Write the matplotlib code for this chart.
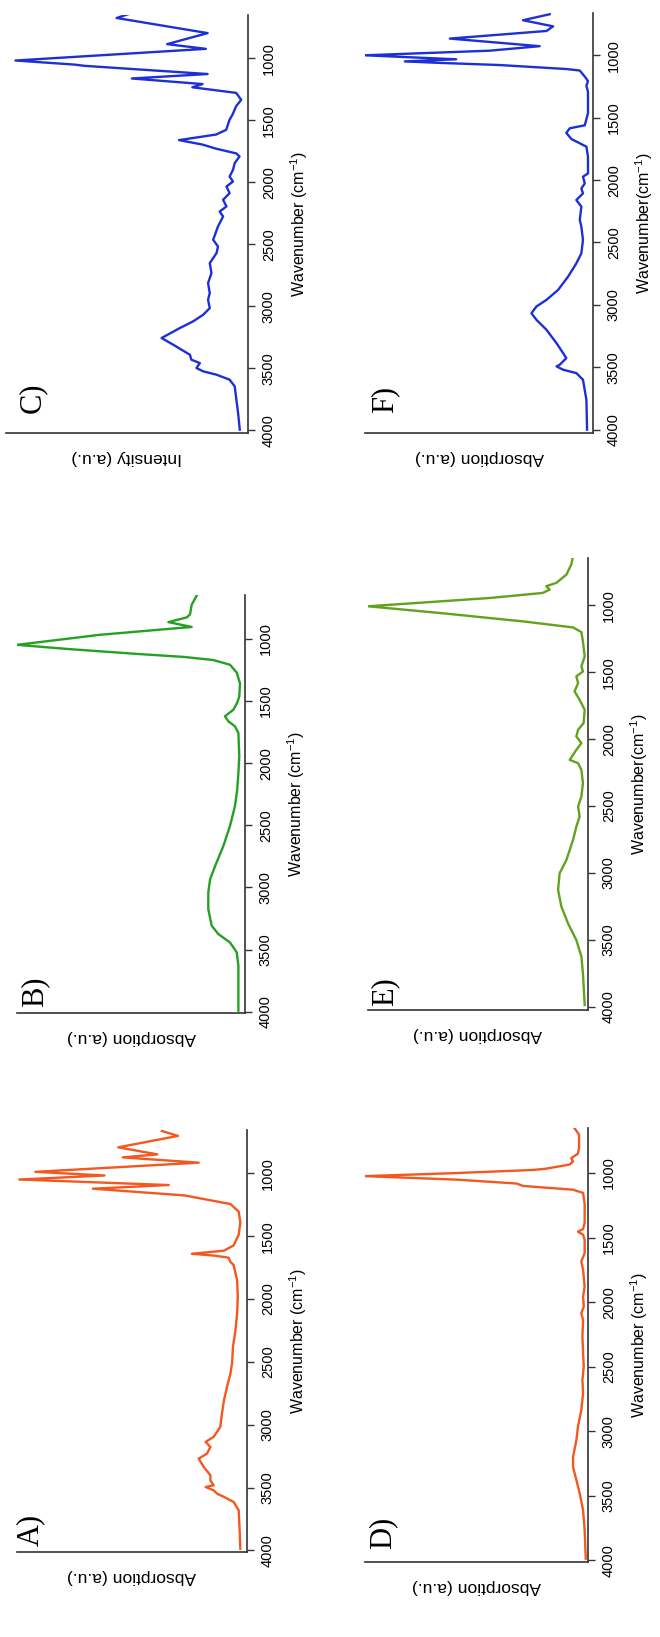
import matplotlib
matplotlib.use("Agg")
import matplotlib.pyplot as plt

plt.rcParams['font.family'] = ['Liberation Sans', 'DejaVu Sans']
plt.rcParams['mathtext.fontset'] = 'custom'
plt.rcParams['mathtext.rm'] = 'Liberation Sans'
plt.rcParams['mathtext.it'] = 'Liberation Sans'

# spectra: wavenumber (cm-1) and relative absorption (0..1)
wn_a = [663, 702, 793, 849, 873, 915, 988, 1017, 1049, 1093, 1122, 1176, 1190, 1244, 1305, 1390,
        1488, 1573, 1615, 1640, 1654, 1671, 1704, 1730, 1850, 1982, 2115, 2248, 2381, 2513, 2593,
        2699, 2805, 2912, 3018, 3097, 3137, 3177, 3230, 3270, 3336, 3403, 3443, 3482, 3496, 3522,
        3549, 3575, 3615, 3682, 3841, 3987]
ab_a = [.37, .30, .56, .39, .54, .21, .92, .62, .99, .34, .67, .27, .23, .072, .036, .029,
        .036, .058, .10, .24, .145, .08, .072, .058, .043, .04, .043, .05, .061, .065, .072,
        .087, .10, .109, .116, .145, .18, .159, .174, .21, .188, .159, .159, .145, .18, .145,
        .13, .10, .058, .036, .032, .029]

wn_b = [645, 726, 802, 827, 865, 904, 967, 1048, 1081, 1119, 1145, 1170, 1208, 1272, 1360, 1462,
        1513, 1570, 1623, 1663, 1704, 1757, 1944, 2078, 2212, 2345, 2506, 2667, 2827, 2934, 3041,
        3175, 3308, 3375, 3442, 3523, 3630, 3991]
ab_b = [.21, .234, .241, .255, .336, .234, .635, 1.0, .78, .49, .27, .14, .066, .036, .022, .025,
        .034, .051, .088, .073, .044, .029, .025, .029, .034, .044, .066, .095, .131, .153, .161,
        .161, .146, .117, .066, .036, .029, .029]

wn_c = [644, 675, 797, 886, 924, 1018, 1051, 1061, 1127, 1163, 1208, 1234, 1279, 1335, 1386, 1450,
        1500, 1577, 1615, 1660, 1696, 1729, 1767, 1792, 1846, 1900, 1954, 1994, 2034, 2088, 2141,
        2195, 2236, 2276, 2356, 2464, 2518, 2571, 2652, 2732, 2813, 2894, 2947, 3015, 3068, 3122,
        3176, 3256, 3310, 3350, 3391, 3431, 3458, 3498, 3525, 3552, 3592, 3646, 3753, 3860, 3995]
ab_c = [.494, .543, .167, .334, .174, .961, .717, .675, .167, .48, .188, .23, .049, .028, .049, .063,
        .077, .09, .132, .285, .188, .132, .049, .035, .055, .062, .076, .062, .089, .076, .103,
        .089, .117, .103, .124, .144, .124, .13, .158, .151, .165, .158, .165, .158, .185, .227,
        .282, .357, .309, .275, .24, .234, .199, .213, .185, .13, .076, .055, .048, .041, .034]

wn_d = [654, 702, 800, 849, 885, 910, 934, 966, 976, 1000, 1024, 1051, 1081, 1100, 1129, 1154,
        1239, 1386, 1434, 1454, 1478, 1517, 1621, 1685, 1750, 1879, 1957, 2034, 2086, 2138, 2267,
        2396, 2500, 2603, 2707, 2836, 2965, 3069, 3198, 3276, 3379, 3483, 3612, 3767, 3987]
ab_d = [.06, .04, .04, .045, .075, .067, .082, .187, .246, .59, 1.0, .59, .321, .291, .067, .022,
        .015, .015, .022, .045, .022, .015, .015, .03, .022, .015, .022, .019, .03, .022, .025,
        .022, .019, .025, .022, .03, .045, .052, .067, .067, .052, .037, .022, .015, .01]

wn_e = [632, 695, 770, 832, 857, 882, 907, 945, 1007, 1057, 1120, 1165, 1200, 1270, 1382, 1456,
        1494, 1531, 1581, 1643, 1706, 1781, 1880, 1930, 1980, 2030, 2080, 2155, 2180, 2230, 2329,
        2429, 2504, 2579, 2654, 2753, 2903, 3003, 3127, 3252, 3377, 3502, 3626, 3751, 3988]
ab_e = [.068, .076, .098, .144, .19, .174, .205, .447, 1.0, .674, .295, .068, .03, .023, .015, .03,
        .023, .053, .045, .061, .038, .015, .02, .045, .053, .03, .053, .083, .045, .03, .023,
        .03, .045, .038, .053, .068, .098, .129, .136, .121, .091, .053, .03, .023, .015]

wn_f = [671, 719, 768, 805, 866, 927, 963, 1000, 1032, 1049, 1061, 1078, 1110, 1122, 1171, 1207,
        1244, 1293, 1464, 1561, 1585, 1622, 1671, 1732, 1813, 1947, 1973, 2027, 2067, 2107, 2160,
        2213, 2320, 2373, 2480, 2587, 2667, 2773, 2880, 2960, 3013, 3067, 3120, 3200, 3307, 3387,
        3427, 3480, 3493, 3520, 3547, 3600, 3760, 4000]
ab_f = [.19, .307, .175, .204, .628, .234, .453, 1.0, .6, .825, .67, .41, .117, .058, .036, .022,
        .029, .022, .022, .036, .102, .117, .095, .029, .022, .022, .044, .036, .051, .044, .073,
        .051, .058, .051, .044, .051, .073, .109, .153, .204, .248, .27, .248, .204, .16, .131,
        .117, .146, .16, .131, .073, .044, .029, .026]

orange = '#F2581F'
green_b = '#24A024'
green_e = '#62A21C'
blue = '#1C30D6'

W, H = 660, 1637
fig = plt.figure(figsize=(W / 100, H / 100), dpi=100)

# panel: (wn, ab, colour, letter, ylabel, xlabel, box px (x0, x1, y0, y1), ylim, letter pos)
panels = [
    (wn_c, ab_c, blue, 'C)', 'Intensity (a.u.)', 'Wavenumber (cm$^{-1}$)', (6, 248, 15, 433), (4022, 651), (0.11, 0.085)),
    (wn_f, ab_f, blue, 'F)', 'Absorption (a.u.)', 'Wavenumber(cm$^{-1}$)', (365, 593, 13, 433), (4027, 661), (0.088, 0.08)),
    (wn_b, ab_b, green_b, 'B)', 'Absorption (a.u.)', 'Wavenumber (cm$^{-1}$)', (17, 245, 595, 1013), (4010, 647), (0.08, 0.05)),
    (wn_e, ab_e, green_e, 'E)', 'Absorption (a.u.)', 'Wavenumber(cm$^{-1}$)', (368, 588, 558, 1010), (4025, 646), (0.078, 0.04)),
    (wn_a, ab_a, orange, 'A)', 'Absorption (a.u.)', 'Wavenumber (cm$^{-1}$)', (17, 247, 1130, 1552), (4013, 655), (0.06, 0.052)),
    (wn_d, ab_d, orange, 'D)', 'Absorption (a.u.)', 'Wavenumber (cm$^{-1}$)', (365, 588, 1128, 1562), (4013, 651), (0.08, 0.067)),
]

for wn, ab, col, letter, ylab, xlab, box, ylim, lpos in panels:
    x0, x1, y0, y1 = box
    ax = fig.add_axes([x0 / W, 1 - y1 / H, (x1 - x0) / W, (y1 - y0) / H])
    ax.plot(ab, wn, color=col, lw=1.7)
    ax.set_xlim(1.0, 0.0)
    ax.set_ylim(*ylim)
    for s in ['top', 'left']:
        ax.spines[s].set_visible(False)
    for s in ['right', 'bottom']:
        ax.spines[s].set_color('#333333')
        ax.spines[s].set_linewidth(1.2)
    ax.set_xticks([])
    ax.set_yticks([1000, 1500, 2000, 2500, 3000, 3500, 4000])
    ax.yaxis.tick_right()
    ax.tick_params(axis='y', direction='out', length=5, width=1.0, color='#333333', pad=5, labelsize=10.5)
    for t in ax.get_yticklabels():
        t.set_rotation(90)
        t.set_va('center')
    ax.yaxis.set_label_position('right')
    ax.set_ylabel(xlab, fontsize=11.5, rotation=90, labelpad=9)
    ax.set_xlabel(ylab, fontsize=12.5, rotation=180, labelpad=12)
    ax.text(lpos[0], lpos[1], letter, transform=ax.transAxes, rotation=90, ha='center', va='center',
            fontsize=22, family='Liberation Serif')

fig.savefig('out.png', dpi=100)
